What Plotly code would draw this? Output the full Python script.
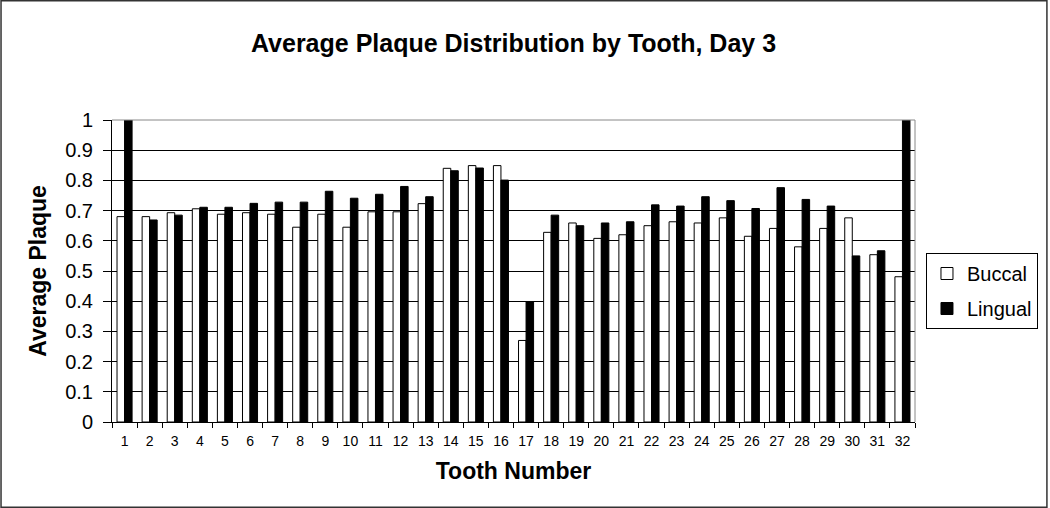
import plotly.graph_objects as go

teeth = [str(i) for i in range(1, 33)]
buccal = [0.680, 0.680, 0.693, 0.706, 0.688, 0.693, 0.688, 0.645,
          0.688, 0.645, 0.696, 0.696, 0.723, 0.840, 0.849, 0.849,
          0.270, 0.628, 0.659, 0.608, 0.620, 0.650, 0.663, 0.659,
          0.676, 0.615, 0.641, 0.580, 0.641, 0.676, 0.554, 0.481]
lingual = [1.000, 0.669, 0.685, 0.711, 0.711, 0.724, 0.728, 0.728,
           0.764, 0.741, 0.754, 0.780, 0.746, 0.832, 0.841, 0.801,
           0.398, 0.685, 0.650, 0.659, 0.663, 0.719, 0.715, 0.746,
           0.733, 0.707, 0.776, 0.737, 0.715, 0.550, 0.567, 1.000]
y_ticks = [0, 0.1, 0.2, 0.3, 0.4, 0.5, 0.6, 0.7, 0.8, 0.9, 1]
y_tick_labels = ["0", "0.1", "0.2", "0.3", "0.4", "0.5", "0.6", "0.7", "0.8", "0.9", "1"]

FONT = "Liberation Sans, Arial, sans-serif"

fig = go.Figure()
fig.add_trace(go.Bar(x=teeth, y=buccal, name="Buccal", legendgroup="b",
                     marker=dict(color="white", line=dict(color="black", width=1))))
fig.add_trace(go.Bar(x=teeth, y=lingual, name="Lingual", legendgroup="l",
                     marker=dict(color="black", line=dict(color="black", width=1))))

W, H = 1050, 508
L, R, T, B = 112, 917, 120, 422
pw, ph = R - L, B - T

fig.update_layout(
    width=W, height=H,
    margin=dict(l=L, r=W - R, t=T, b=H - B),
    paper_bgcolor="white", plot_bgcolor="white",
    barmode="group", bargap=0.4, bargroupgap=0,
    font=dict(family=FONT, color="black"),
    title=dict(text="<b>Average Plaque Distribution by Tooth, Day 3</b>",
               x=0.5, xref="paper", y=1 - 43 / H, yanchor="middle",
               font=dict(size=25, family=FONT, color="black")),
    showlegend=True,
    legend=dict(x=(928 - L) / pw, y=(B - 253) / ph, xanchor="left", yanchor="top",
                bordercolor="black", borderwidth=1, bgcolor="white",
                font=dict(size=20, family=FONT, color="black"),
                tracegroupgap=6, itemwidth=30),
    xaxis=dict(
        type="category", tickson="boundaries", ticks="outside", ticklen=5,
        tickcolor="black", showline=True, linecolor="black", linewidth=1,
        showgrid=False, tickfont=dict(size=14, family=FONT, color="black"),
        ticklabelstandoff=6,
        title=dict(text="<b>Tooth Number</b>", standoff=15,
                   font=dict(size=23, family=FONT, color="black")),
    ),
    yaxis=dict(
        range=[0, 1], tickvals=y_ticks, ticktext=y_tick_labels,
        ticks="outside", ticklen=8, tickcolor="black",
        showline=True, linecolor="black", linewidth=1,
        showgrid=True, gridcolor="black", gridwidth=1, zeroline=False,
        tickfont=dict(size=20, family=FONT, color="black"),
        ticklabelstandoff=6,
        title=dict(text="<b>Average Plaque</b>", standoff=12,
                   font=dict(size=23, family=FONT, color="black")),
    ),
    shapes=[
        dict(type="line", xref="paper", yref="paper", x0=0, x1=1, y0=1, y1=1,
             line=dict(color="#888888", width=1)),
        dict(type="line", xref="paper", yref="paper", x0=1, x1=1, y0=0, y1=1,
             line=dict(color="#888888", width=1)),
        dict(type="rect", xref="paper", yref="paper",
             x0=(0.75 - L) / pw, x1=(W - 0.75 - L) / pw,
             y0=(B - (H - 0.75)) / ph, y1=(B - 0.75) / ph,
             line=dict(color="#333333", width=1.5), fillcolor="rgba(0,0,0,0)"),
    ],
)

fig.write_html("out.html", config={"displayModeBar": False},
               post_script="document.body.style.margin='0';document.body.style.overflow='hidden';")
